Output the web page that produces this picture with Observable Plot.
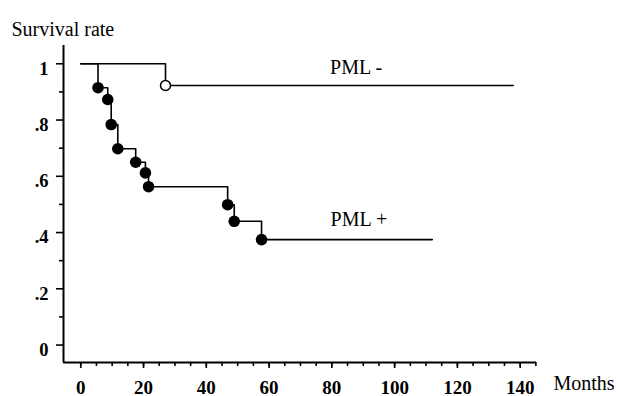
<!DOCTYPE html>
<html>
<head>
<meta charset="utf-8">
<script src="https://cdn.jsdelivr.net/npm/d3@7"></script>
<script src="https://cdn.jsdelivr.net/npm/@observablehq/plot@0.6"></script>
<style>
  html, body { margin: 0; padding: 0; background: #fff; }
  #chart svg { display: block; }
  #chart svg, #chart svg text { font-family: "Liberation Serif", "DejaVu Serif", serif !important; }
</style>
</head>
<body>
<div id="chart"></div>
<script>
// PML+ Kaplan-Meier step (months, survival)
const plusMonths = [0, 5.5, 8.6, 9.7, 11.8, 17.5, 20.6, 21.6, 46.8, 48.9, 57.6, 112];
const plusSurv   = [1, 0.915, 0.873, 0.784, 0.698, 0.650, 0.612, 0.563, 0.499, 0.440, 0.375, 0.375];
// PML+ events (filled dots)
const plusEventMonths = [5.5, 8.6, 9.7, 11.8, 17.5, 20.6, 21.6, 46.8, 48.9, 57.6];
const plusEventSurv   = [0.915, 0.873, 0.784, 0.698, 0.650, 0.612, 0.563, 0.499, 0.440, 0.375];
// PML- step
const minusMonths = [0, 27, 137.8];
const minusSurv   = [1, 0.923, 0.923];
// PML- open circle
const minusEventMonths = [27];
const minusEventSurv   = [0.923];
// Axis ticks
const xMajorTicks = [0, 20, 40, 60, 80, 100, 120, 140];
const xMinorTicks = [0,5,10,15,20,25,30,35,40,45,50,55,60,65,70,75,80,85,90,95,100,105,110,115,120,125,130,135,140,145];
const yMajorTicks = [0, 0.2, 0.4, 0.6, 0.8, 1];
const yMinorTicks = [0.1, 0.3, 0.5, 0.7, 0.9];
// Series labels
const seriesNames = ["PML -", "PML +"];
const labelMonths = [87.7, 88.6];
const labelSurv   = [0.987, 0.446];

const xDomain = [-5.5, 145.2];
const yDomain = [-0.062, 1.065];

const plusData = plusMonths.map((m, i) => ({m, s: plusSurv[i]}));
const minusData = minusMonths.map((m, i) => ({m, s: minusSurv[i]}));
const plusEvents = plusEventMonths.map((m, i) => ({m, s: plusEventSurv[i]}));
const minusEvents = minusEventMonths.map((m, i) => ({m, s: minusEventSurv[i]}));
const labels = seriesNames.map((t, i) => ({t, m: labelMonths[i], s: labelSurv[i]}));

const fmtY = d => d === 0 ? "0" : d === 1 ? "1" : d3.format(".1f")(d).replace(/^0/, "");

const chart = Plot.plot({
  width: 618,
  height: 396,
  marginLeft: 63,
  marginRight: 82,
  marginTop: 45,
  marginBottom: 34,
  style: {background: "#fff", color: "#000"},
  x: {domain: xDomain, label: null},
  y: {domain: yDomain, label: null},
  marks: [
    Plot.axisX(xMinorTicks, {tickSize: 4, text: null, label: null, strokeWidth: 1.6}),
    Plot.axisX(xMajorTicks, {tickSize: 6, text: null, label: null, strokeWidth: 1.6}),
    Plot.axisY(yMinorTicks, {tickSize: 4, text: null, label: null, strokeWidth: 1.6}),
    Plot.axisY(yMajorTicks, {tickSize: 7, text: null, label: null, strokeWidth: 1.6}),
    Plot.text(xMajorTicks, {x: d => d, frameAnchor: "bottom", lineAnchor: "top", dy: 17.5, text: d => String(d), fontSize: 19, fontWeight: "bold", fill: "#000"}),
    Plot.text(yMajorTicks, {y: d => d, frameAnchor: "left", textAnchor: "end", dx: -15, dy: 5, text: fmtY, fontSize: 18.5, fontWeight: "bold", fill: "#000"}),
    Plot.ruleX([xDomain[0]], {strokeWidth: 2}),
    Plot.ruleY([yDomain[0]], {strokeWidth: 2}),
    Plot.line(minusData, {x: "m", y: "s", curve: "step-after", stroke: "#000", strokeWidth: 1.6}),
    Plot.line(plusData, {x: "m", y: "s", curve: "step-after", stroke: "#000", strokeWidth: 1.6}),
    Plot.dot(plusEvents, {x: "m", y: "s", r: 5.8, fill: "#000", stroke: "none"}),
    Plot.dot(minusEvents, {x: "m", y: "s", r: 5, fill: "#fff", stroke: "#000", strokeWidth: 1.5}),
    Plot.text(labels, {x: "m", y: "s", text: "t", fontSize: 20, fill: "#000"}),
    Plot.text(["Survival rate"], {frameAnchor: "top-left", dx: -52, dy: -24, textAnchor: "start", fontSize: 20, fill: "#000"}),
    Plot.text(["Months"], {frameAnchor: "bottom-right", dx: 17, dy: 27, textAnchor: "start", fontSize: 20, fill: "#000"})
  ]
});
document.getElementById("chart").appendChild(chart);
</script>
</body>
</html>
